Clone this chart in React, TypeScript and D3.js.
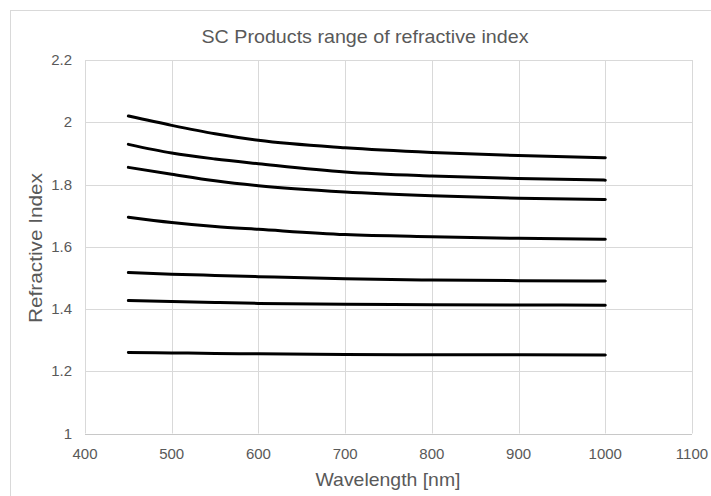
import React, { useEffect, useRef } from "react";
import * as d3 from "d3";

const wavelengths = [450, 500, 550, 600, 700, 800, 900, 1000];
const product1 = [2.02, 1.99, 1.963, 1.942, 1.918, 1.903, 1.893, 1.886];
const product2 = [1.929, 1.901, 1.882, 1.867, 1.84, 1.827, 1.819, 1.814];
const product3 = [1.855, 1.833, 1.812, 1.796, 1.776, 1.764, 1.756, 1.752];
const product4 = [1.695, 1.678, 1.665, 1.656, 1.639, 1.632, 1.627, 1.624];
const product5 = [1.517, 1.512, 1.508, 1.504, 1.497, 1.493, 1.491, 1.49];
const product6 = [1.427, 1.424, 1.421, 1.418, 1.415, 1.414, 1.413, 1.412];
const product7 = [1.26, 1.259, 1.257, 1.256, 1.254, 1.253, 1.253, 1.252];
const series = [product1, product2, product3, product4, product5, product6, product7];

const xTicks = [400, 500, 600, 700, 800, 900, 1000, 1100];
const yTicks = [1, 1.2, 1.4, 1.6, 1.8, 2, 2.2];

const title = "SC Products range of refractive index";
const xTitle = "Wavelength [nm]";
const yTitle = "Refractive Index";

const W = 711,
  H = 496;
const font = "'Liberation Sans', Arial, sans-serif";
const textColor = "#595959";
const gridColor = "#d9d9d9";

function App() {
  const ref = useRef<SVGSVGElement>(null);

  useEffect(() => {
    const svg = d3.select(ref.current);
    svg.selectAll("*").remove();

    const x = d3.scaleLinear().domain([400, 1100]).range([85, 692]);
    const y = d3.scaleLinear().domain([1, 2.2]).range([433.5, 60]);

    // chart frame
    svg
      .append("rect")
      .attr("x", 10.5)
      .attr("y", 10.5)
      .attr("width", W)
      .attr("height", H)
      .attr("fill", "#fff")
      .attr("stroke", gridColor);

    svg
      .append("text")
      .attr("x", 365)
      .attr("y", 43)
      .attr("text-anchor", "middle")
      .attr("font-family", font)
      .attr("font-size", 18.5)
      .attr("textLength", 327)
      .attr("lengthAdjust", "spacingAndGlyphs")
      .attr("fill", textColor)
      .text(title);

    const grid = svg.append("g");
    grid
      .selectAll("line.v")
      .data(xTicks)
      .join("line")
      .attr("class", "v")
      .attr("x1", d => Math.round(x(d)) + 0.5)
      .attr("x2", d => Math.round(x(d)) + 0.5)
      .attr("y1", y(2.2))
      .attr("y2", y(1))
      .attr("stroke", gridColor);
    grid
      .selectAll("line.h")
      .data(yTicks)
      .join("line")
      .attr("class", "h")
      .attr("x1", x(400))
      .attr("x2", x(1100))
      .attr("y1", d => Math.round(y(d)) + 0.5)
      .attr("y2", d => Math.round(y(d)) + 0.5)
      .attr("stroke", d => (d === 1 ? "#c8c8c8" : gridColor));

    // tick labels
    svg
      .append("g")
      .selectAll("text")
      .data(xTicks)
      .join("text")
      .attr("x", d => x(d))
      .attr("y", 459)
      .attr("text-anchor", "middle")
      .attr("font-family", font)
      .attr("font-size", 15)
      .attr("fill", textColor)
      .text(d => d);
    svg
      .append("g")
      .selectAll("text")
      .data(yTicks)
      .join("text")
      .attr("x", 72)
      .attr("y", d => y(d) + 5)
      .attr("text-anchor", "end")
      .attr("font-family", font)
      .attr("font-size", 15)
      .attr("fill", textColor)
      .text(d => d3.format("")(d));

    svg
      .append("text")
      .attr("x", 388)
      .attr("y", 486)
      .attr("text-anchor", "middle")
      .attr("font-family", font)
      .attr("font-size", 19)
      .attr("textLength", 145)
      .attr("lengthAdjust", "spacingAndGlyphs")
      .attr("fill", textColor)
      .text(xTitle);
    svg
      .append("text")
      .attr("transform", "translate(42,248) rotate(-90)")
      .attr("text-anchor", "middle")
      .attr("font-family", font)
      .attr("font-size", 19)
      .attr("textLength", 150)
      .attr("lengthAdjust", "spacingAndGlyphs")
      .attr("fill", textColor)
      .text(yTitle);

    const line = d3
      .line<number>()
      .x((d, i) => x(wavelengths[i]))
      .y(d => y(d))
      .curve(d3.curveMonotoneX);

    svg
      .append("g")
      .selectAll("path")
      .data(series)
      .join("path")
      .attr("d", d => line(d))
      .attr("fill", "none")
      .attr("stroke", "#000")
      .attr("stroke-width", 3)
      .attr("stroke-linecap", "round");
  }, []);

  return (
    <svg
      ref={ref}
      width={W}
      height={H}
      style={{ position: "absolute", left: 0, top: 0, background: "#fff" }}
    />
  );
}

export default App;
